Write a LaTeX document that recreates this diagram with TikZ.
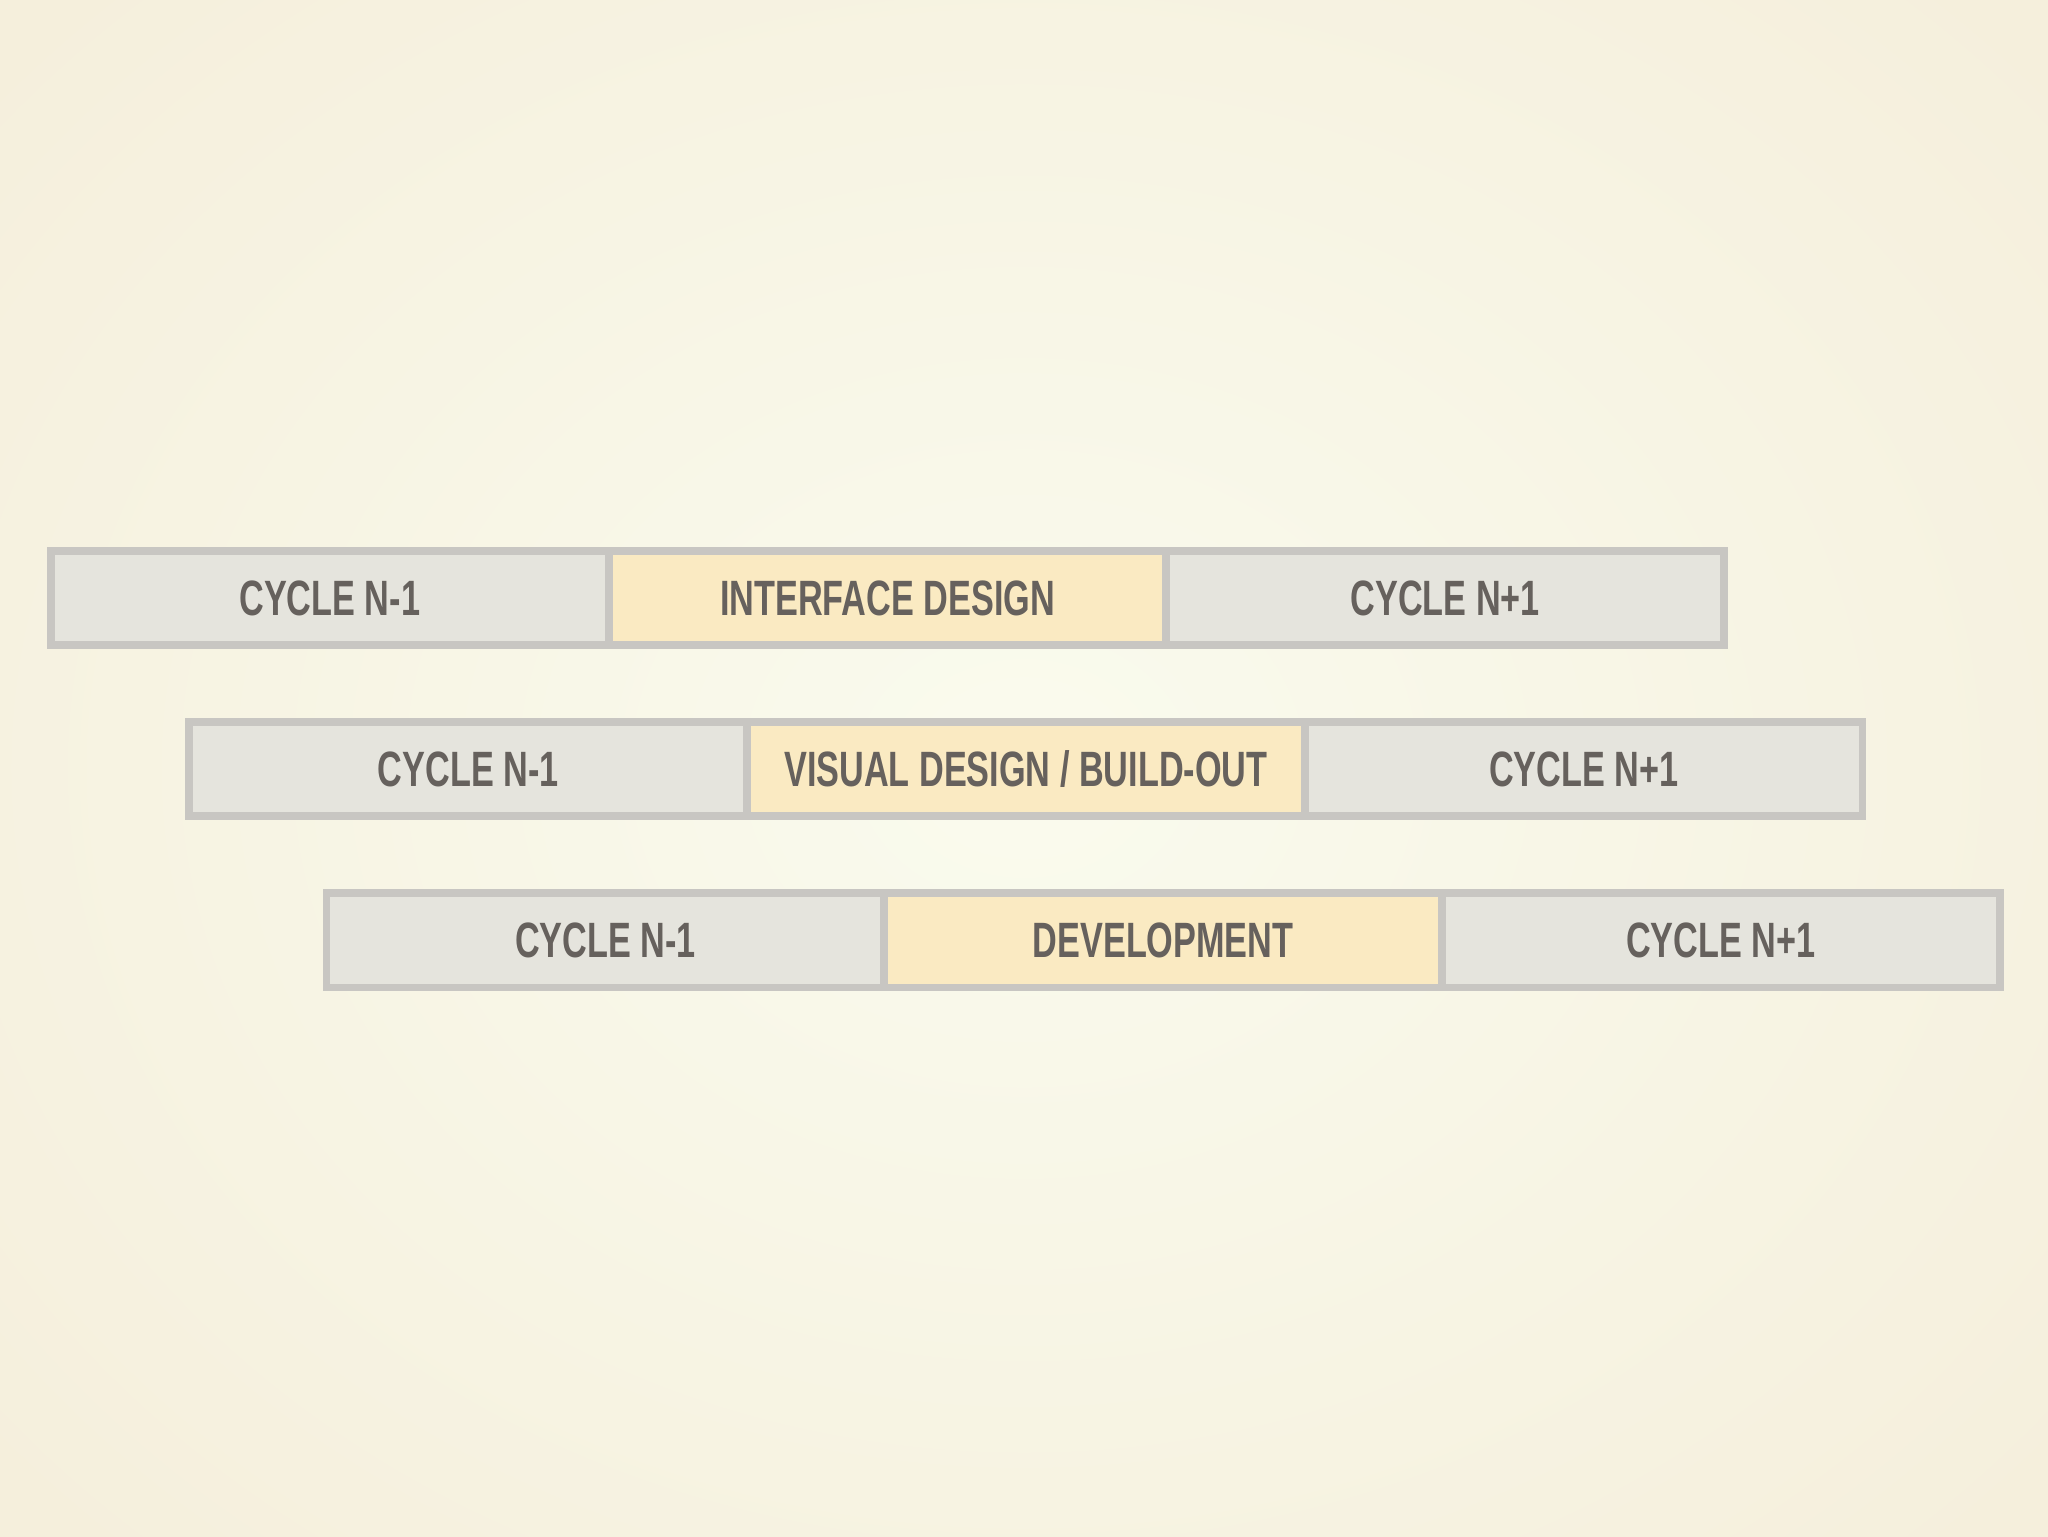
\documentclass[tikz,border=0pt]{standalone}
\usepackage{fontspec}
\setmainfont[FakeStretch=0.69]{Liberation Sans}
\definecolor{bgin}{HTML}{FAFBEE}
\definecolor{bgout}{HTML}{F5EFDC}
\definecolor{boxg}{HTML}{E5E4DD}
\definecolor{boxy}{HTML}{FAEAC2}
\definecolor{edge}{HTML}{C8C6C2}
\definecolor{txt}{HTML}{66615D}
\tikzset{
 seg/.style={draw=edge,line width=6pt,minimum width=427pt,minimum height=72pt,inner sep=0,font=\fontsize{38}{42}\selectfont\bfseries,text=txt,anchor=west},
 grayseg/.style={seg,fill=boxg},
 yelseg/.style={seg,fill=boxy}
}
\begin{document}
\begin{tikzpicture}[x=1pt,y=-1pt]
\useasboundingbox (0,0) rectangle (1568,1176);
\begin{scope}
\clip (0,0) rectangle (1568,1176);
\shade[inner color=bgin,outer color=bgout] (-250,-250) rectangle (1818,1426);
\end{scope}
\node[grayseg] (a1) at (36,458) {CYCLE N-1};
\node[yelseg] (a2) at (463,458) {INTERFACE DESIGN};
\node[grayseg] (a3) at (890,458) {CYCLE N+1};
\node[grayseg] (b1) at (142,589) {CYCLE N-1};
\node[yelseg] (b2) at (569,589) {VISUAL DESIGN / BUILD-OUT};
\node[grayseg] (b3) at (996,589) {CYCLE N+1};
\node[grayseg] (c1) at (247,720) {CYCLE N-1};
\node[yelseg] (c2) at (674,720) {DEVELOPMENT};
\node[grayseg] (c3) at (1101,720) {CYCLE N+1};
\end{tikzpicture}
\end{document}
